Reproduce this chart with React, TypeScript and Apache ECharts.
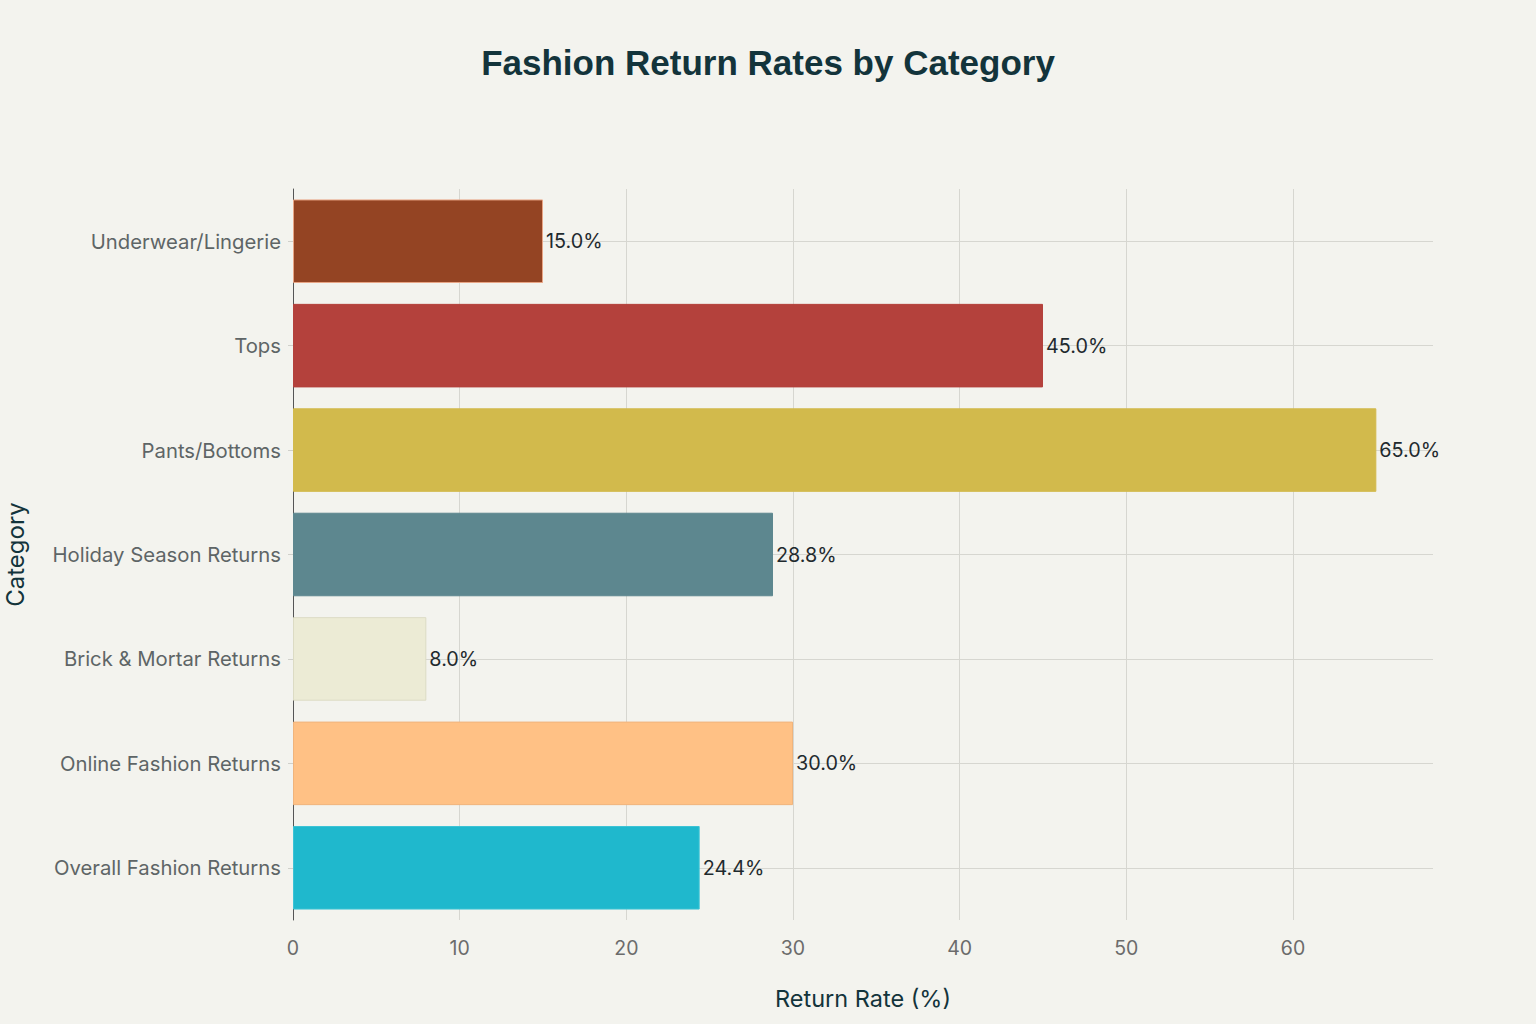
import React, { useEffect, useRef } from "react";
import * as echarts from "echarts";

const categories = [
  "Overall Fashion Returns",
  "Online Fashion Returns",
  "Brick & Mortar Returns",
  "Holiday Season Returns",
  "Pants/Bottoms",
  "Tops",
  "Underwear/Lingerie",
];
const returnRates = [24.4, 30.0, 8.0, 28.8, 65.0, 45.0, 15.0];
const barColors = ["#1FB8CD", "#FFC185", "#ECEBD5", "#5D878F", "#D2BA4C", "#B4413C", "#944423"];
const barBorders = ["#3CC3D5", "#F0B47C", "#DCDBC4", "#5D878F", "#D2BA4C", "#B4413C", "#E8A585"];
const xTicks = [0, 10, 20, 30, 40, 50, 60];

const TITLE_FONT = "'Liberation Sans', Arial, sans-serif";
const FONT = "Inter, 'Liberation Sans', Arial, sans-serif";

export default function App() {
  const ref = useRef<HTMLDivElement>(null);
  useEffect(() => {
    if (!ref.current) return;
    const chart = echarts.init(ref.current, undefined, { renderer: "svg" });
    chart.setOption({
      animation: false,
      backgroundColor: "#F3F3EE",
      textStyle: { fontFamily: FONT },
      title: {
        text: "Fashion Return Rates by Category",
        left: "center",
        top: 40,
        textStyle: { fontFamily: TITLE_FONT, fontSize: 35, fontWeight: "bold", color: "#13343B" },
      },
      grid: {
        left: 293,
        right: 103,
        top: 189,
        bottom: 104,
        containLabel: false,
        outerBoundsMode: "none",
      },
      xAxis: {
        type: "value",
        min: 0,
        max: 68.4,
        interval: 10,
        name: "Return Rate (%)",
        nameLocation: "middle",
        nameGap: 66,
        nameTextStyle: { fontFamily: FONT, fontSize: 23.5, color: "#13343B" },
        axisLine: { show: false },
        axisTick: { show: false },
        axisLabel: {
          fontFamily: FONT,
          fontSize: 19.5,
          color: "#6B6B6B",
          margin: 18,
          showMaxLabel: false,
          formatter: (v: number) => (xTicks.includes(v) ? String(v) : ""),
        },
        splitLine: { show: true, showMaxLine: false, lineStyle: { color: "#D6D6D0", width: 1 } },
      },
      yAxis: {
        type: "category",
        data: categories,
        name: "Category",
        nameLocation: "middle",
        nameGap: 266,
        nameRotate: 90,
        nameTextStyle: { fontFamily: FONT, fontSize: 24, color: "#13343B" },
        axisLine: { show: true, lineStyle: { color: "#555", width: 1 } },
        axisTick: { show: true, alignWithLabel: true, length: 5, lineStyle: { color: "#D0D0CA" } },
        axisLabel: { fontFamily: FONT, fontSize: 20.3, color: "#5E6566", margin: 12 },
        splitLine: { show: true, alignWithLabel: true, lineStyle: { color: "#D6D6D0", width: 1 } },
      },
      series: [
        {
          type: "bar",
          data: returnRates.map((v, i) => ({
            value: v,
            itemStyle: { color: barColors[i], borderColor: barBorders[i], borderWidth: 1 },
          })),
          barCategoryGap: "20%",
          label: {
            show: true,
            position: "right",
            distance: 3,
            fontFamily: FONT,
            fontSize: 19.8,
            color: "#1F2A2E",
            formatter: (p: any) => `${Number(p.value).toFixed(1)}%`,
          },
        },
      ],
    });
    return () => chart.dispose();
  }, []);
  return (
    <div
      ref={ref}
      style={{ position: "fixed", left: 0, top: 0, width: 1536, height: 1024 }}
    />
  );
}
